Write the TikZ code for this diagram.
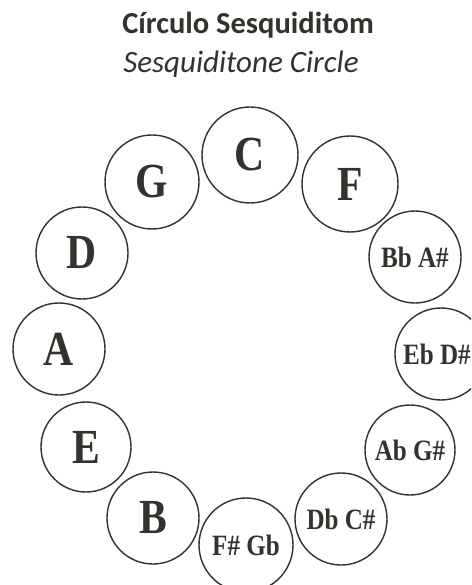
\documentclass[tikz,border=0pt]{standalone}
\usepackage{fontspec}
\setmainfont{Carlito}
\newfontfamily\notefont[FakeStretch=0.85]{Liberation Serif}
\definecolor{ink}{HTML}{35312D}
\begin{document}
\begin{tikzpicture}[x=1pt,y=-1pt,
  note/.style={circle,draw=ink,line width=1.4pt,inner sep=0pt,text=ink},
  big/.style={font=\notefont\bfseries\fontsize{49}{49}\selectfont},
  small/.style={font=\notefont\bfseries\fontsize{29.5}{29.5}\selectfont},
  title/.style={text=ink,inner sep=0pt,anchor=base}]
\fill[white] (0,0) rectangle (471,585);
\useasboundingbox (0,0) rectangle (471,585);
\clip (0,0) rectangle (471,585);
\node[title,font=\bfseries\fontsize{30.5}{30.5}\selectfont] (t1) at (248,34) {Círculo Sesquiditom};
\node[title,font=\itshape\fontsize{31}{31}\selectfont] (t2) at (241,73) {Sesquiditone Circle};
\node[note,big,minimum size=96pt] (C) at (250,155) {C};
\node[note,big,minimum size=96pt] (F) at (350,184) {F};
\node[note,small,minimum size=92pt] (Bb) at (415,257) {Bb A\#};
\node[note,minimum size=92pt] (Eb) at (441,354) {};
\node[small,text=ink,inner sep=0pt] (EbT) at (437,354) {Eb D\#};
\node[note,small,minimum size=90pt] (Ab) at (410,450) {Ab G\#};
\node[note,small,minimum size=92pt] (Db) at (341,519) {Db C\#};
\node[note,small,minimum size=94pt] (Fs) at (246,545) {F\# Gb};
\node[note,big,minimum size=92pt] (B) at (153,518) {B};
\node[note,big,minimum size=90pt] (E) at (86,447) {E};
\node[note,big,minimum size=92pt] (A) at (59,349) {A};
\node[note,big,minimum size=92pt] (D) at (82,253) {D};
\node[note,big,minimum size=94pt] (G) at (152,182) {G};
\end{tikzpicture}
\end{document}
